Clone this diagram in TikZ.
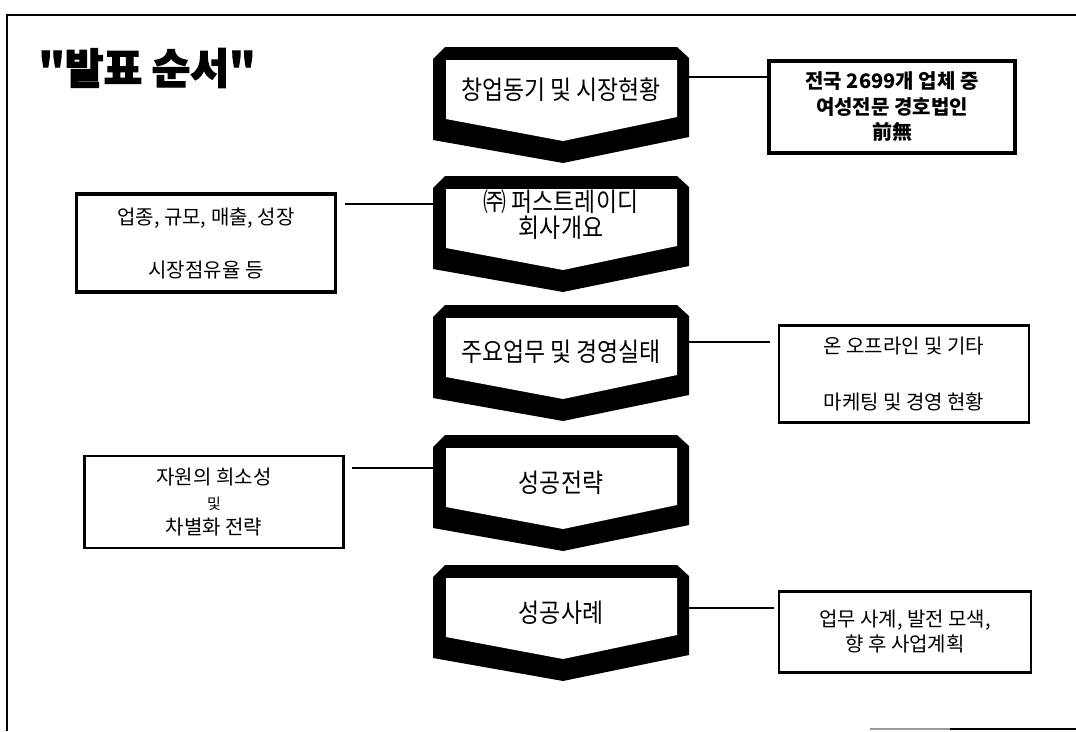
\documentclass[tikz,border=0pt]{standalone}
\usepackage{fontspec}
\newfontfamily\kr{Noto Sans CJK KR}
\newfontfamily\krnarrow{Noto Sans CJK KR}[FakeStretch=0.88]
\newfontfamily\krtitle{Noto Sans CJK KR}[FakeBold=2.5]

\begin{document}
\begin{tikzpicture}[x=1pt,y=-1pt,
  chev/.style={align=center,font=\krnarrow\fontsize{26}{26}\selectfont},
  box/.style={draw,line width=3.5pt,fill=white,align=center,inner sep=0pt,font=\kr\fontsize{20}{25}\selectfont},
  thinbox/.style={box,line width=2.2pt},
  link/.style={line width=2.4pt}]
\useasboundingbox (0,0) rectangle (1076,731);

\draw[line width=1.8pt] (7,731) -- (7,15) -- (1076,15);
\draw[line width=1.5pt,black!40] (870,729) -- (950,729);
\draw[line width=1.8pt] (950,729) -- (1076,729);

\node[font=\krtitle\bfseries\fontsize{42}{42}\selectfont] (title) at (147,68) {"발표 순서"};

\foreach \n/\t/\d/\txt in {1/47/43/{창업동기 및 시장현황},2/176/39/{㈜ 퍼스트레이디\\회사개요},
    3/305/47/{주요업무 및 경영실태},4/435/48/{성공전략},5/565/48/{성공사례}}{
  \fill (433,\t+12) -- (445,\t) -- (677,\t) -- (689,\t+11) -- (689,\t+90) -- (563,\t+116) -- (433,\t+93) -- cycle;
  \fill[white] (446,\t+13) -- (677,\t+13) -- (677,\t+70) -- (563,\t+94) -- (446,\t+72) -- cycle;
  \node[chev] (c\n) at (561,\t+\d) {\txt};
}
\coordinate (e1) at (689,77);
\coordinate (w2) at (433,204);
\coordinate (e3) at (689,342);
\coordinate (w4) at (433,468);
\coordinate (e5) at (689,608);

\node[box,minimum width=246,minimum height=92,font=\kr\bfseries\fontsize{20}{25.5}\selectfont] (b1) at (892,107)
  {전국 2699개 업체 중\\여성전문 경호법인\\前無};
\node[box,minimum width=259,minimum height=98] (b2) at (206,243) {업종, 규모, 매출, 성장\\[28pt]시장점유율 등};
\node[thinbox,minimum width=250,minimum height=97] (b3) at (904,374) {온 오프라인 및 기타\\[31pt]마케팅 및 경영 현황};
\node[thinbox,minimum width=259,minimum height=92] (b4) at (214,502)
  {자원의 희소성\\{\fontsize{15}{15}\selectfont 및}\\차별화 전략};
\node[thinbox,minimum width=252,minimum height=81] (b5) at (905,632) {업무 사계, 발전 모색,\\향 후 사업계획};

\draw[link] (e1) -- (e1 -| b1.west);
\draw[link] (w2) -- ([xshift=8pt]w2 -| b2.east);
\draw[link] (e3) -- ([xshift=-8pt]e3 -| b3.west);
\draw[link] (w4) -- ([xshift=7pt]w4 -| b4.east);
\draw[link] (e5) -- ([xshift=-4pt]e5 -| b5.west);
\end{tikzpicture}
\end{document}
